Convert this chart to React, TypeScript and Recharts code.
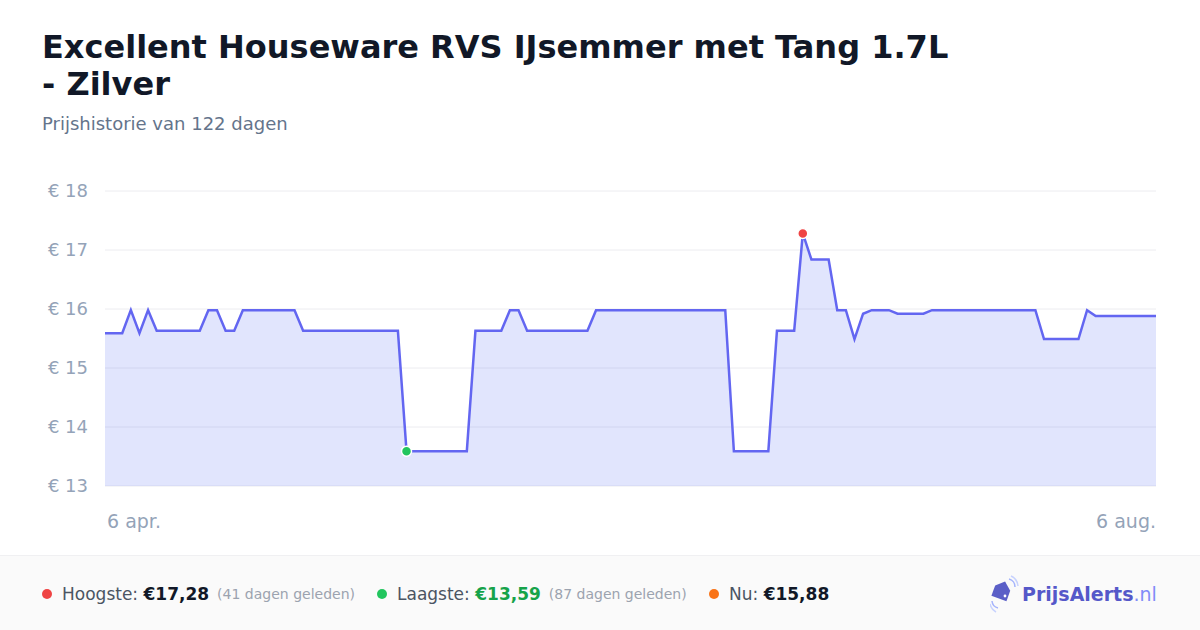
import React from 'react'
import {
  Area,
  AreaChart,
  CartesianGrid,
  ReferenceDot,
  XAxis,
  YAxis,
} from 'recharts'

// Daily prices, 6 apr. .. 6 aug. (123 points)
const prices = [
  15.59, 15.59, 15.59, 15.98, 15.59, 15.98, 15.63, 15.63, 15.63, 15.63,
  15.63, 15.63, 15.98, 15.98, 15.63, 15.63, 15.98, 15.98, 15.98, 15.98,
  15.98, 15.98, 15.98, 15.63, 15.63, 15.63, 15.63, 15.63, 15.63, 15.63,
  15.63, 15.63, 15.63, 15.63, 15.63, 13.59, 13.59, 13.59, 13.59, 13.59,
  13.59, 13.59, 13.59, 15.63, 15.63, 15.63, 15.63, 15.98, 15.98, 15.63,
  15.63, 15.63, 15.63, 15.63, 15.63, 15.63, 15.63, 15.98, 15.98, 15.98,
  15.98, 15.98, 15.98, 15.98, 15.98, 15.98, 15.98, 15.98, 15.98, 15.98,
  15.98, 15.98, 15.98, 13.59, 13.59, 13.59, 13.59, 13.59, 15.63, 15.63,
  15.63, 17.28, 16.84, 16.84, 16.84, 15.98, 15.98, 15.49, 15.92, 15.98,
  15.98, 15.98, 15.92, 15.92, 15.92, 15.92, 15.98, 15.98, 15.98, 15.98,
  15.98, 15.98, 15.98, 15.98, 15.98, 15.98, 15.98, 15.98, 15.98, 15.49,
  15.49, 15.49, 15.49, 15.49, 15.98, 15.88, 15.88, 15.88, 15.88, 15.88,
  15.88, 15.88, 15.88,
]

const xTickIndex = [0, 122]
const xTickLabels = ['6 apr.', '6 aug.']
const yTicks = [13, 14, 15, 16, 17, 18]

const highIndex = 81
const highPrice = 17.28
const lowIndex = 35
const lowPrice = 13.59

const data = prices.map((price, i) => ({ i, price }))

const FONT = '"DejaVu Sans", sans-serif'

function XTick(props: any) {
  const { x, y, payload } = props
  const idx = xTickIndex.indexOf(payload.value)
  return (
    <text
      x={idx === 0 ? x + 2 : x}
      y={y + 42}
      textAnchor={idx === 0 ? 'start' : 'end'}
      fill="#94a3b8"
      fontSize={19}
      fontFamily={FONT}
    >
      {xTickLabels[idx]}
    </text>
  )
}

function StatDot({ color }: { color: string }) {
  return (
    <span
      style={{
        width: 10,
        height: 10,
        borderRadius: '50%',
        background: color,
        marginRight: 10,
        display: 'inline-block',
      }}
    />
  )
}

function Stat(props: {
  left: number
  color: string
  label: string
  value: string
  valueColor: string
  note?: string
}) {
  return (
    <div
      style={{
        position: 'absolute',
        left: props.left,
        top: 0,
        height: 75,
        display: 'flex',
        alignItems: 'center',
        whiteSpace: 'pre',
      }}
    >
      <StatDot color={props.color} />
      <span style={{ fontSize: 17, color: '#4b5563' }}>{props.label} </span>
      <span style={{ fontSize: 17, fontWeight: 700, color: props.valueColor }}>
        {props.value}
      </span>
      {props.note && (
        <span style={{ fontSize: 14, color: '#9ca3af', marginLeft: 8 }}>
          {props.note}
        </span>
      )}
    </div>
  )
}

export default function App() {
  return (
    <div
      style={{
        position: 'absolute',
        left: 0,
        top: 0,
        width: 1200,
        height: 630,
        background: '#ffffff',
        fontFamily: FONT,
        overflow: 'hidden',
      }}
    >
      <AreaChart
        width={1200}
        height={555}
        data={data}
        margin={{ top: 191, right: 44, left: 0, bottom: 0 }}
        style={{ position: 'absolute', left: 0, top: 0 }}
      >
        <CartesianGrid vertical={false} stroke="#ececf0" strokeWidth={1} />
        <XAxis
          dataKey="i"
          type="number"
          domain={[0, 122]}
          ticks={xTickIndex}
          axisLine={false}
          tickLine={false}
          tickSize={0}
          tickMargin={0}
          height={69}
          tick={<XTick />}
          interval={0}
        />
        <YAxis
          domain={[13, 18]}
          ticks={yTicks}
          width={105}
          axisLine={false}
          tickLine={false}
          tickSize={0}
          tickMargin={17}
          tickFormatter={(v: number) => `€ ${v}`}
          tick={{ fill: '#94a3b8', fontSize: 18, fontFamily: FONT }}
        />
        <Area
          type="linear"
          dataKey="price"
          stroke="#6366f1"
          strokeWidth={2.5}
          fill="#6b7cf5"
          fillOpacity={0.2}
          dot={false}
          activeDot={false}
          isAnimationActive={false}
        />
        <ReferenceDot
          x={highIndex}
          y={highPrice}
          r={5}
          fill="#ef4444"
          stroke="#ffffff"
          strokeWidth={1.5}
        />
        <ReferenceDot
          x={lowIndex}
          y={lowPrice}
          r={5}
          fill="#22c55e"
          stroke="#ffffff"
          strokeWidth={1.5}
        />
      </AreaChart>

      <div
        style={{
          position: 'absolute',
          left: 42,
          top: 29,
          width: 920,
          fontSize: 32,
          lineHeight: '37px',
          fontWeight: 700,
          color: '#111827',
        }}
      >
        Excellent Houseware RVS IJsemmer met Tang 1.7L - Zilver
      </div>
      <div
        style={{
          position: 'absolute',
          left: 42,
          top: 113,
          fontSize: 18,
          lineHeight: '22px',
          color: '#64748b',
        }}
      >
        Prijshistorie van 122 dagen
      </div>

      <div
        style={{
          position: 'absolute',
          left: 0,
          top: 555,
          width: 1200,
          height: 75,
          background: '#fafafa',
          borderTop: '1px solid #f0f0f2',
          boxSizing: 'border-box',
        }}
      >
        <Stat
          left={42}
          color="#ef4444"
          label="Hoogste:"
          value="€17,28"
          valueColor="#111827"
          note="(41 dagen geleden)"
        />
        <Stat
          left={377}
          color="#22c55e"
          label="Laagste:"
          value="€13,59"
          valueColor="#16a34a"
          note="(87 dagen geleden)"
        />
        <Stat
          left={709}
          color="#f97316"
          label="Nu:"
          value="€15,88"
          valueColor="#111827"
        />
        <div
          style={{
            position: 'absolute',
            left: 990,
            top: 0,
            height: 75,
            display: 'flex',
            alignItems: 'center',
          }}
        >
          <svg width={30} height={40} viewBox="0 0 30 40" style={{ marginRight: 2 }}>
            <path
              d="M4 14 L12 7 L20 14 L20 25 L4 25 Z"
              transform="rotate(20 12 16)"
              fill="#5b5fc7"
            />
            <circle cx={15} cy={22} r={1.4} fill="#ffffff" />
            <path d="M19 5 A8 8 0 0 1 25 13" stroke="#a5b4fc" strokeWidth={1.5} fill="none" />
            <path d="M21 2 A12 12 0 0 1 28 12" stroke="#c7d2fe" strokeWidth={1.5} fill="none" />
            <path d="M2 27 A8 8 0 0 0 8 34" stroke="#a5b4fc" strokeWidth={1.5} fill="none" />
            <path d="M0 30 A12 12 0 0 0 6 38" stroke="#c7d2fe" strokeWidth={1.5} fill="none" />
          </svg>
          <span style={{ fontSize: 19, fontWeight: 700, color: '#5558c9' }}>
            PrijsAlerts
          </span>
          <span style={{ fontSize: 19, color: '#818cf8' }}>.nl</span>
        </div>
      </div>
    </div>
  )
}
